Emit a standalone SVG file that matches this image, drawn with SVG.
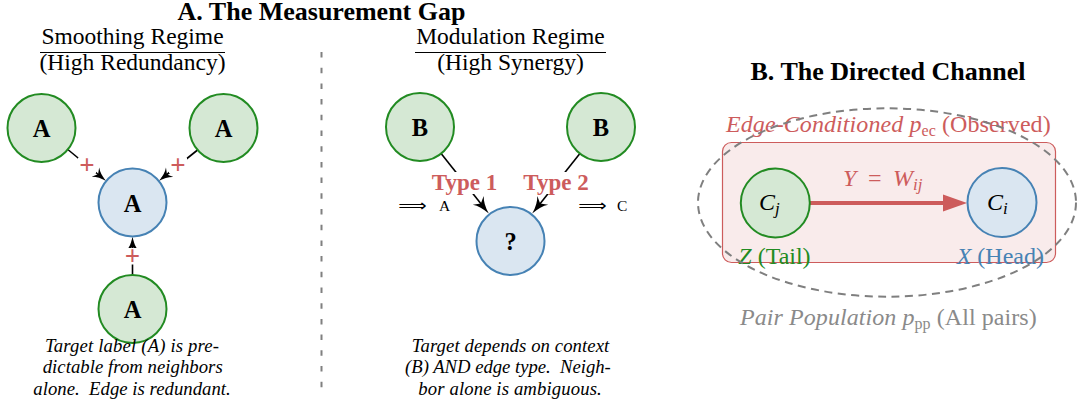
<svg xmlns="http://www.w3.org/2000/svg" width="1077" height="404" viewBox="0 0 1077 404">
<defs>
<style>
.serif{font-family:"Liberation Serif","Times New Roman",serif;}
.title{font-family:"Liberation Serif",serif;font-weight:bold;font-size:26px;fill:#000;text-anchor:middle;}
.sub{font-family:"Liberation Serif",serif;font-size:23.5px;fill:#000;text-anchor:middle;}
.cap{font-family:"Liberation Serif",serif;font-style:italic;font-size:18.7px;fill:#000;text-anchor:middle;}
.ng{fill:#d5e8d4;stroke:#228b22;stroke-width:2;}
.nb{fill:#dae6f1;stroke:#4682b4;stroke-width:2;}
.nl{font-family:"Liberation Serif",serif;font-weight:bold;font-size:24.5px;fill:#000;text-anchor:middle;}
.edge{stroke:#000;stroke-width:1.6;fill:none;}
.plus{font-family:"Liberation Serif",serif;font-weight:bold;font-size:27px;fill:#cd5c5c;text-anchor:middle;}
.typ{font-family:"Liberation Serif",serif;font-weight:bold;font-size:23px;fill:#cd5c5c;text-anchor:middle;}
.bg{fill:#fff;stroke:none;}
.math{font-family:"Liberation Serif",serif;font-size:24px;}
.it{font-style:italic;}
</style>
<marker id="stS" markerUnits="userSpaceOnUse" viewBox="0 -7 14 14" markerWidth="14" markerHeight="14" refX="10" refY="0" orient="auto">
<path d="M0,-6 Q5,-1.5 14,0 Q5,1.5 0,6 L3.5,0 Z" fill="#000"/>
</marker>
<marker id="stL" markerUnits="userSpaceOnUse" viewBox="0 -8 17 16" markerWidth="17" markerHeight="16" refX="12" refY="0" orient="auto">
<path d="M0,-7 Q6,-1.8 17,0 Q6,1.8 0,7 L4.2,0 Z" fill="#000"/>
</marker>
<marker id="redHead" markerUnits="userSpaceOnUse" viewBox="0 -9 24 18" markerWidth="24" markerHeight="18" refX="2" refY="0" orient="auto">
<path d="M0,-8.5 L24,0 L0,8.5 Z" fill="#cd5c5c"/>
</marker>
</defs>

<rect width="1077" height="404" fill="#fff"/>

<!-- Titles -->
<text class="title" x="321.5" y="20" font-size="25.5">A. The Measurement Gap</text>
<text class="title" x="888" y="80">B. The Directed Channel</text>

<!-- Regime headings -->
<text class="sub" x="132.5" y="44">Smoothing Regime</text>
<line x1="40" y1="52.5" x2="225" y2="52.5" stroke="#000" stroke-width="1"/>
<text class="sub" x="132.5" y="70">(High Redundancy)</text>

<text class="sub" x="510.5" y="44">Modulation Regime</text>
<line x1="415" y1="52.5" x2="606" y2="52.5" stroke="#000" stroke-width="1"/>
<text class="sub" x="510.5" y="70">(High Synergy)</text>

<!-- divider -->
<line x1="321.5" y1="52" x2="321.5" y2="392" stroke="#808080" stroke-width="2" stroke-dasharray="5.5 10.2"/>

<!-- Connectors -->
<g id="connectors">
<line class="edge" x1="67.8" y1="149.5" x2="103.1" y2="178.5" marker-end="url(#stS)"/>
<line class="edge" x1="198.2" y1="149.5" x2="161.9" y2="178.5" marker-end="url(#stS)"/>
<line class="edge" x1="132.5" y1="275" x2="132.5" y2="240.5" marker-end="url(#stS)"/>
<rect class="bg" x="78" y="157.5" width="18" height="15.5"/>
<rect class="bg" x="169" y="157.5" width="18" height="15.5"/>
<rect class="bg" x="123.5" y="248" width="18" height="16.5"/>
<text class="plus" x="87" y="174">+</text>
<text class="plus" x="178" y="174">+</text>
<text class="plus" x="132.5" y="264.5">+</text>

<line class="edge" x1="441.1" y1="153.6" x2="485.7" y2="209.7" stroke-width="1.8" marker-end="url(#stL)"/>
<line class="edge" x1="579.9" y1="153.6" x2="535.3" y2="209.7" stroke-width="1.8" marker-end="url(#stL)"/>
<rect class="bg" x="429" y="172" width="71" height="22"/>
<rect class="bg" x="520" y="172" width="72" height="22"/>
<text class="typ" x="464.5" y="189.5">Type 1</text>
<text class="typ" x="556" y="189.5">Type 2</text>
<text font-family="DejaVu Sans, sans-serif" font-size="16" x="398.3" y="210.7" textLength="28.4" lengthAdjust="spacingAndGlyphs">⟹</text>
<text class="serif" font-size="15.5" x="439" y="210.7">A</text>
<text font-family="DejaVu Sans, sans-serif" font-size="16" x="578.3" y="210.7" textLength="28.4" lengthAdjust="spacingAndGlyphs">⟹</text>
<text class="serif" font-size="15.5" x="617" y="210.7">C</text>

<line x1="810" y1="203" x2="945" y2="203" stroke="#cd5c5c" stroke-width="4" marker-end="url(#redHead)"/>
</g>

<!-- Panel A left nodes -->
<g id="smooth-tl"><circle class="ng" cx="41.5" cy="128" r="34"/><text class="nl" x="41.5" y="137">A</text></g>
<g id="smooth-tr"><circle class="ng" cx="223.5" cy="128" r="34"/><text class="nl" x="223.5" y="137">A</text></g>
<g id="smooth-target"><circle class="nb" cx="132.5" cy="202.5" r="34"/><text class="nl" x="132.5" y="212">A</text></g>
<g id="smooth-bottom"><circle class="ng" cx="132.5" cy="309" r="34"/><text class="nl" x="132.5" y="318">A</text></g>

<text class="cap" x="132" y="351.7" textLength="174" lengthAdjust="spacing">Target label (A) is pre-</text>
<text class="cap" x="132.7" y="373.3" textLength="180" lengthAdjust="spacing">dictable from neighbors</text>
<text class="cap" x="132" y="395" textLength="197.4" lengthAdjust="spacing" xml:space="preserve">alone.  Edge is redundant.</text>

<!-- Panel A middle nodes -->
<g id="mod-bl"><circle class="ng" cx="420" cy="127" r="34"/><text class="nl" x="420" y="136">B</text></g>
<g id="mod-br"><circle class="ng" cx="601" cy="127" r="34"/><text class="nl" x="601" y="136">B</text></g>
<g id="mod-target"><circle class="nb" cx="510.5" cy="241" r="34"/><text class="nl" x="510.5" y="250">?</text></g>

<text class="cap" x="510.5" y="351.7" textLength="197.6" lengthAdjust="spacing">Target depends on context</text>
<text class="cap" x="507.9" y="373.3" textLength="205.7" lengthAdjust="spacing" xml:space="preserve">(B) AND edge type.  Neigh-</text>
<text class="cap" x="510" y="395" textLength="183.4" lengthAdjust="spacing">bor alone is ambiguous.</text>

<!-- Panel B -->
<g id="edge-conditioned">
<rect x="722.5" y="142.5" width="333" height="120" rx="9" fill="#cd5c5c" fill-opacity="0.12" stroke="#cd5c5c" stroke-width="1.2"/>
<text class="math" x="726" y="131.7" fill="#cd5c5c" textLength="324.7" lengthAdjust="spacing"><tspan class="it">Edge-Conditioned p</tspan><tspan font-size="16" dy="4">ec</tspan><tspan dy="-4"> (Observed)</tspan></text>
</g>
<text class="math" x="738.3" y="264" fill="#228b22"><tspan class="it">Z</tspan> (Tail)</text>
<text class="math" x="956.7" y="264" fill="#4682b4"><tspan class="it">X</tspan> (Head)</text>
<g id="pair-population">
<ellipse cx="887" cy="202.5" rx="189" ry="94.2" fill="none" stroke="#7f7f7f" stroke-width="2" stroke-dasharray="8 5.5"/>
<text class="math" x="740" y="325" fill="#8a8a8a" textLength="296.7" lengthAdjust="spacing"><tspan class="it">Pair Population p</tspan><tspan font-size="16" dy="4">pp</tspan><tspan dy="-4"> (All pairs)</tspan></text>
</g>
<text class="math" y="186" fill="#cd5c5c" font-size="25"><tspan class="it" x="843">Y</tspan><tspan x="868">=</tspan><tspan class="it" x="893">W</tspan><tspan class="it" font-size="17" dy="4">ij</tspan></text>

<g id="node-cj"><circle class="ng" cx="775.3" cy="203" r="34.5"/><text class="math" y="209.5" x="759" font-size="25"><tspan class="it">C</tspan><tspan class="it" font-size="17" dy="4">j</tspan></text></g>
<g id="node-ci"><circle class="nb" cx="1002" cy="202.5" r="34.5"/><text class="math" y="209.5" x="987" font-size="25"><tspan class="it">C</tspan><tspan class="it" font-size="17" dy="4">i</tspan></text></g>
</svg>
